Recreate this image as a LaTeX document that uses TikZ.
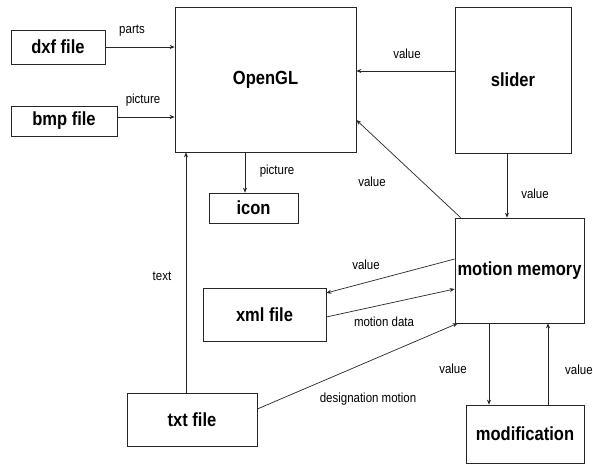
\documentclass[tikz,border=0pt]{standalone}
\usepackage{fontspec}
\setmainfont[FakeStretch=0.87]{Liberation Sans}
\usetikzlibrary{arrows.meta}
\begin{document}
\begin{tikzpicture}[x=1pt,y=-1pt,
  box/.style={draw=black!85,line width=0.7pt,inner sep=0pt,font=\fontsize{19}{21}\selectfont\bfseries},
  lbl/.style={font=\fontsize{13.2}{15}\selectfont,inner sep=0pt},
  arr/.style={draw=black!85,line width=0.7pt,-{Stealth[length=5pt,width=4pt]}}]
\useasboundingbox[fill=white] (0,0) rectangle (593,465);
% boxes
\node[box,minimum width=94pt,minimum height=34pt] (dxf) at (58,47) {dxf file};
\node[box,minimum width=106pt,minimum height=30pt] (bmp) at (64,121) {bmp file};
\node[box,minimum width=181pt,minimum height=145pt] (gl) at (265.5,79.5) {OpenGL};
\node[box,minimum width=116pt,minimum height=146pt] (slider) at (513,80) {slider};
\node[box,minimum width=89pt,minimum height=30pt] (icon) at (253.5,208) {icon};
\node[box,minimum width=129pt,minimum height=105pt] (mm) at (519.5,270.5) {motion memory};
\node[box,minimum width=123pt,minimum height=53pt] (xml) at (264.5,314.5) {xml file};
\node[box,minimum width=130pt,minimum height=53pt] (txt) at (192,419.5) {txt file};
\node[box,minimum width=118pt,minimum height=58pt] (mod) at (525,434) {modification};
% connectors
\draw[arr] (dxf.east) -- (dxf.east -| gl.west);
\draw[arr] (bmp.east |- 0,117) -- (gl.west |- 0,117);
\draw[arr] (slider.west |- 0,71) -- (gl.east |- 0,71);
\draw[arr] ([xshift=6pt]mm.north west) -- (gl.east |- 0,120);
\draw[arr] (gl.south -| 245,0) -- (icon.north -| 245,0);
\draw[arr] (txt.north -| 186,0) -- (gl.south -| 186,0);
\draw[arr] (slider.south -| 507,0) -- (mm.north -| 507,0);
\draw[arr] (mm.west |- 0,259) -- (xml.east |- 0,293);
\draw[arr] (xml.east |- 0,317) -- (mm.west |- 0,289);
\draw[arr] (txt.east |- 0,409) -- ([xshift=3pt]mm.south west);
\draw[arr] (mm.south -| 489,0) -- (mod.north -| 489,0);
\draw[arr] (mod.north -| 548,0) -- (mm.south -| 548,0);
% labels
\node[lbl] (l1) at (132,31) {parts};
\node[lbl] (l2) at (143,100) {picture};
\node[lbl] (l3) at (407,54) {value};
\node[lbl] (l4) at (372,182) {value};
\node[lbl] (l5) at (535,194) {value};
\node[lbl] (l6) at (277,171) {picture};
\node[lbl] (l7) at (162,276) {text};
\node[lbl] (l8) at (366,265) {value};
\node[lbl] (l9) at (384,322) {motion data};
\node[lbl] (l10) at (368,399) {designation motion};
\node[lbl] (l11) at (453,369) {value};
\node[lbl,anchor=west] (l12) at (565,370) {value};
\end{tikzpicture}
\end{document}
